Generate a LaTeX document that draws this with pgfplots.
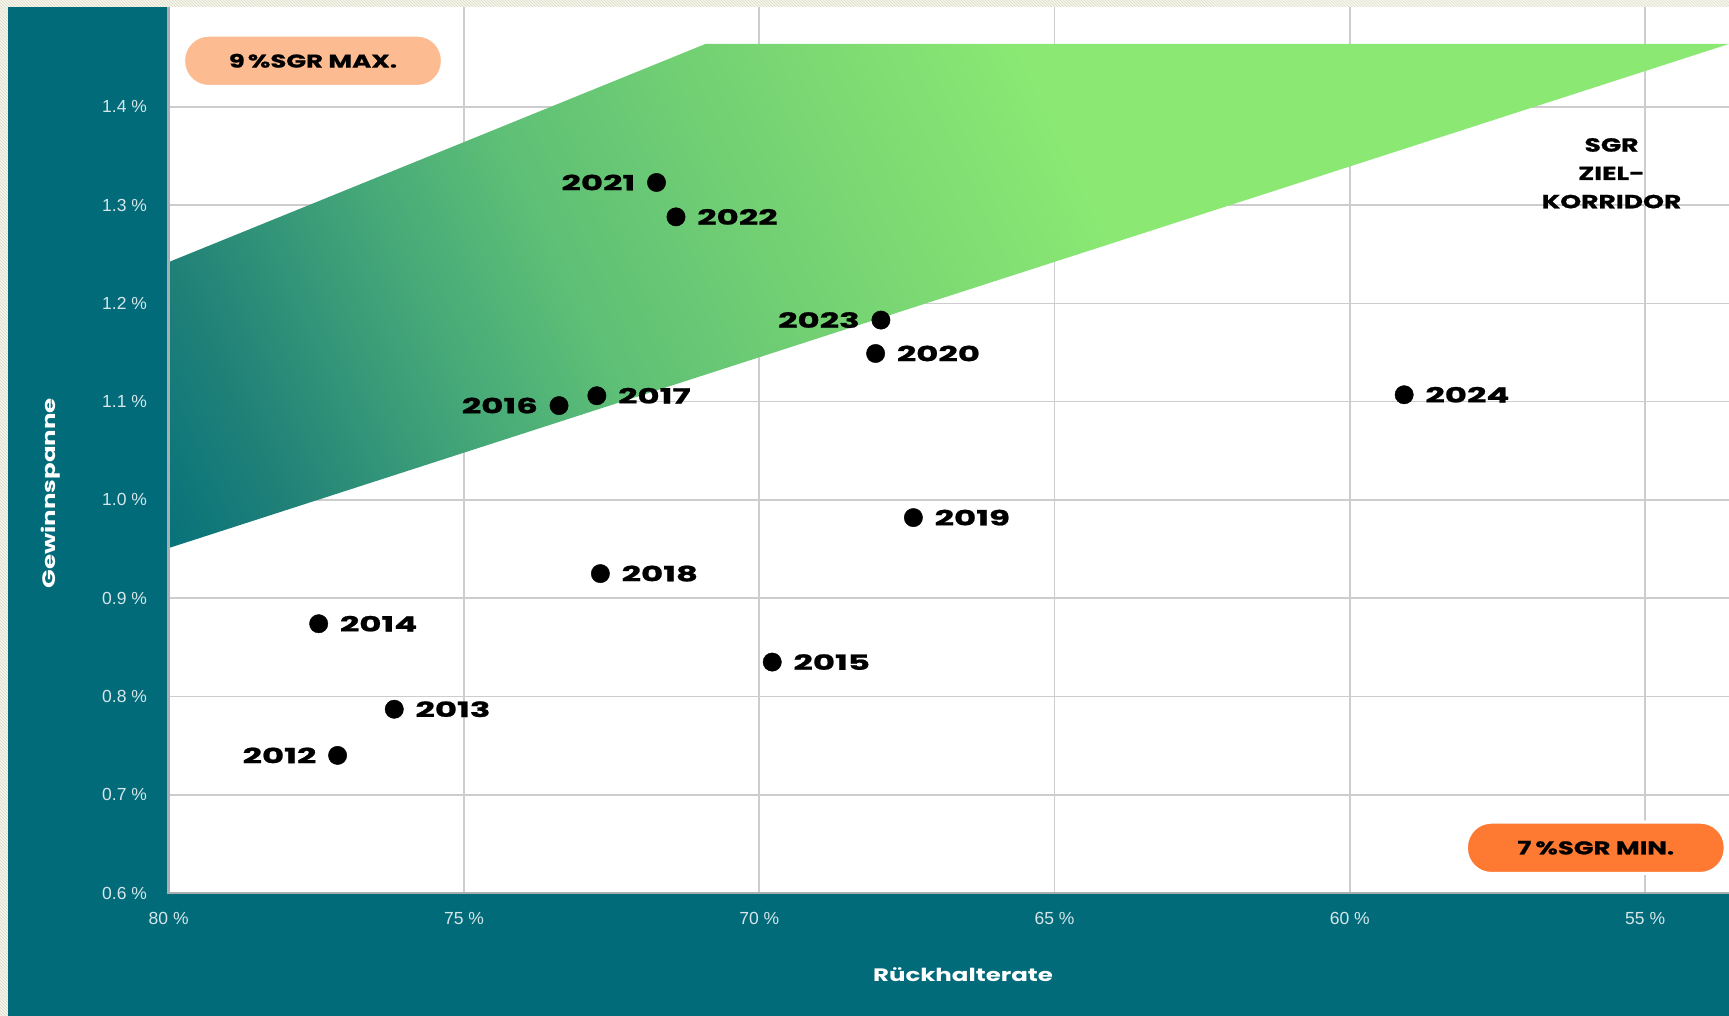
\documentclass[border=0pt]{standalone}
\usepackage{pgfplots}
\pgfplotsset{compat=1.18}
\usepackage{pgfplotstable}
\usetikzlibrary{patterns}
\usepackage{fontspec}
\setmainfont{Liberation Sans}
\newfontfamily\dispfont[FakeStretch=1.4, BoldFeatures={FakeBold=0.8}]{Poppins}
\newfontfamily\yearfam[FakeStretch=1.62, BoldFeatures={FakeBold=1}]{Poppins}
\newfontfamily\labfont[FakeStretch=1.36]{Poppins}

\definecolor{panel}{HTML}{016B7A}
\definecolor{gridgray}{HTML}{CDCDCD}
\definecolor{axisgray}{HTML}{A7AFB1}
\definecolor{ticktext}{HTML}{D6E6E9}
\definecolor{peach}{HTML}{FDBB91}
\definecolor{sgrorange}{HTML}{FE7A32}
\definecolor{lightgreen}{HTML}{8AE873}
\definecolor{hatchbg}{HTML}{F6F6EE}
\definecolor{hatchline}{HTML}{DCDCC6}
\definecolor{corteal}{HTML}{006E7B}
\definecolor{g1}{HTML}{1F8078}
\definecolor{g2}{HTML}{45A878}
\definecolor{g3}{HTML}{5EBF76}
\definecolor{g4}{HTML}{76D373}

\pgfdeclarehorizontalshading{corridor}{100bp}{color(0bp)=(corteal); color(25bp)=(corteal); color(29.6bp)=(g1); color(35.7bp)=(g2); color(40bp)=(g3); color(47bp)=(g4); color(55bp)=(lightgreen); color(100bp)=(lightgreen)}

\newcommand\yearfont{\yearfam\bfseries\fontsize{21}{24}\selectfont}
\newcommand\pillfont{\dispfont\bfseries\fontsize{18.5}{22}\selectfont}
\newcommand\tickfont{\fontsize{17.5}{20}\selectfont}

% years labelled on the right of the dot
\pgfplotstableread{
x y label
76.18 0.787 2013
77.46 0.874 2014
69.78 0.835 2015
72.75 1.106 2017
72.69 0.925 2018
67.39 0.982 2019
68.03 1.149 2020
71.41 1.288 2022
59.08 1.107 2024
}\rightpts

% years labelled on the left of the dot
\pgfplotstableread{
x y label
77.14 0.740 2012
73.39 1.096 2016
71.74 1.323 2021
67.94 1.183 2023
}\leftpts

\begin{document}
\begin{tikzpicture}
\path[use as bounding box] (0pt,0pt) rectangle (1729pt,1016pt);
\fill[hatchbg] (0pt,0pt) rectangle (1729pt,1016pt);
\fill[pattern=north west lines, pattern color=hatchline] (0pt,0pt) rectangle (1729pt,1016pt);
\fill[panel] (8.4pt,0pt) rectangle (1729pt,1008.7pt);

\begin{axis}[
  at={(168.7pt,123pt)}, anchor=south west,
  scale only axis, width=1560.3pt, height=885.7pt,
  x dir=reverse,
  xmin=53.58, xmax=80,
  ymin=0.6, ymax=1.5013,
  axis background/.style={fill=white},
  axis line style={draw=none},
  grid=major,
  major grid style={draw=gridgray, line width=1.7pt},
  major tick length=0pt,
  xtick={55,60,65,70,75,80},
  xticklabels={55~\%,60~\%,65~\%,70~\%,75~\%,80~\%},
  ytick={0.6,0.7,0.8,0.9,1.0,1.1,1.2,1.3,1.4},
  yticklabels={0.6~\%,0.7~\%,0.8~\%,0.9~\%,1.0~\%,1.1~\%,1.2~\%,1.3~\%,1.4~\%},
  tick label style={font=\tickfont, text=ticktext, inner sep=0pt},
  xticklabel style={anchor=north, yshift=-19pt},
  yticklabel style={anchor=east, xshift=-21.5pt},
]
% SGR target corridor
\begin{scope}
\clip (axis cs:80,1.242) -- (axis cs:70.91,1.464) -- (axis cs:53.58,1.464) -- (axis cs:80,0.951) -- cycle;
\shade[shading=corridor, shading angle=25] (axis cs:81.18,0.3426) rectangle (axis cs:52.40,2.073);
\end{scope}

\addplot[only marks, mark=*, mark size=9.2pt, black,
  nodes near coords, point meta=explicit symbolic,
  every node near coord/.append style={font=\yearfont, text=black, inner sep=0pt, anchor=west, xshift=21pt}]
  table[meta=label] {\rightpts};
\addplot[only marks, mark=*, mark size=9.2pt, black,
  nodes near coords, point meta=explicit symbolic,
  every node near coord/.append style={font=\yearfont, text=black, inner sep=0pt, anchor=east, xshift=-21pt}]
  table[meta=label] {\leftpts};
\end{axis}

\draw[axisgray, line width=2.5pt] (168.7pt,1008.7pt) -- (168.7pt,123pt) -- (1729pt,123pt);

\node[fill=peach, draw=white, line width=3pt, rounded corners=25pt, minimum width=258.7pt, minimum height=51.3pt, inner sep=0pt] at (313pt,955.2pt) {\pillfont 9\,\%SGR MAX.};
\node[fill=sgrorange, draw=white, line width=3pt, rounded corners=25pt, minimum width=258.7pt, minimum height=51.3pt, inner sep=0pt] at (1595.8pt,168.2pt) {\pillfont 7\hspace{0.22em}\%SGR MIN.};

\node[anchor=base, inner sep=0pt, font=\dispfont\bfseries\fontsize{19}{22}\selectfont] at (1611.5pt,864.3pt) {SGR};
\node[anchor=base, inner sep=0pt, font=\dispfont\bfseries\fontsize{19}{22}\selectfont] at (1611.5pt,836pt) {ZIEL-};
\node[anchor=base, inner sep=0pt, font=\dispfont\bfseries\fontsize{19}{22}\selectfont] at (1611.5pt,807.7pt) {KORRIDOR};

\node[white, inner sep=0pt, font=\labfont\bfseries\fontsize{18}{22}\selectfont] at (963pt,41.2pt) {Rückhalterate};
\node[white, inner sep=0pt, rotate=90, font=\labfont\bfseries\fontsize{18}{22}\selectfont] at (50.7pt,522.7pt) {Gewinnspanne};
\end{tikzpicture}
\end{document}
